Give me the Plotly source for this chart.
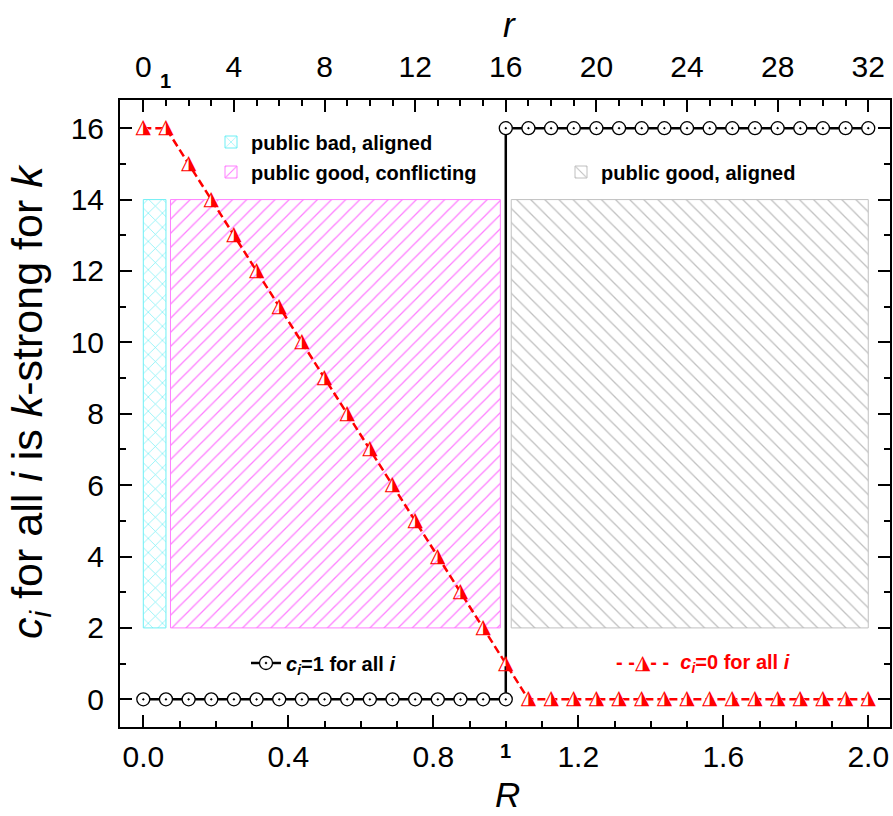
import plotly.graph_objects as go

# ---------------- data ----------------
r_vals = [0, 1, 2, 3, 4, 5, 6, 7, 8, 9, 10, 11, 12, 13, 14, 15, 16,
          17, 18, 19, 20, 21, 22, 23, 24, 25, 26, 27, 28, 29, 30, 31, 32]
R_vals = [v / 16 for v in r_vals]

# c_i = 1 for all i  (two branches joined at R = 1)
black_r = [0, 1, 2, 3, 4, 5, 6, 7, 8, 9, 10, 11, 12, 13, 14, 15, 16,
           16, 17, 18, 19, 20, 21, 22, 23, 24, 25, 26, 27, 28, 29, 30, 31, 32]
black_k = [0, 0, 0, 0, 0, 0, 0, 0, 0, 0, 0, 0, 0, 0, 0, 0, 0,
           16, 16, 16, 16, 16, 16, 16, 16, 16, 16, 16, 16, 16, 16, 16, 16, 16]
black_R = [v / 16 for v in black_r]

# c_i = 0 for all i
red_k = [16, 16, 15, 14, 13, 12, 11, 10, 9, 8, 7, 6, 5, 4, 3, 2, 1,
         0, 0, 0, 0, 0, 0, 0, 0, 0, 0, 0, 0, 0, 0, 0, 0]

# shaded regions
region_names = ["public bad, aligned", "public good, conflicting", "public good, aligned"]
region_R_start = [0.0, 0.075, 1.015]
region_R_end = [0.0625, 0.985, 2.0]
region_k_low = [2, 2, 2]
region_k_high = [14, 14, 14]
region_shape = ["x", "/", "\\"]
region_color = ["#6FEFF5", "#FF7FFF", "#C0C0C0"]

bottom_ticks = [0.0, 0.4, 0.8, 1.2, 1.6, 2.0]
top_ticks = [0, 4, 8, 12, 16, 20, 24, 28, 32]

FONT = "Liberation Sans"

# plot-area pixel geometry (figure 893 x 816)
PX_L, PX_R, PX_T, PX_B = 120, 890, 100, 727


def px_x(px):
    return (px - PX_L) / (PX_R - PX_L)


def px_y(py):
    return (PX_B - py) / (PX_B - PX_T)


fig = go.Figure()

# ---------------- hatched regions ----------------
legend_ids = ["legend", "legend2", "legend3"]
for i in range(3):
    a, b = region_R_start[i], region_R_end[i]
    fig.add_trace(go.Bar(
        x=[(a + b) / 2], width=[b - a],
        base=[region_k_low[i]], y=[region_k_high[i] - region_k_low[i]],
        name="<b>" + region_names[i] + "</b>",
        marker=dict(color="white",
                    line=dict(color=region_color[i], width=1),
                    pattern=dict(shape=region_shape[i], fgcolor=region_color[i],
                                 bgcolor="white", size=10, solidity=0.13,
                                 fillmode="replace")),
        legend=legend_ids[i], showlegend=True, hoverinfo="skip",
    ))

# ---------------- c_i = 1 series ----------------
fig.add_trace(go.Scatter(
    x=black_R, y=black_k, mode="lines+markers",
    line=dict(color="black", width=2.5),
    marker=dict(symbol="circle-dot", size=13, color="white",
                line=dict(color="black", width=1.3)),
    name="<b><i>c</i><sub><i>i</i></sub>=1 for all <i>i</i></b>",
    legend="legend4", showlegend=True,
))

# ---------------- c_i = 0 series ----------------
fig.add_trace(go.Scatter(
    x=R_vals, y=red_k, mode="lines+markers+text",
    line=dict(color="red", width=2.5, dash="8px,4px"),
    marker=dict(symbol="triangle-up", size=11, color="white", line=dict(width=0)),
    text=["\u25EE"] * len(R_vals), textposition="middle center",
    textfont=dict(family="DejaVu Sans", size=20, color="red"),
    showlegend=False, hoverinfo="skip",
))

# invisible anchor trace so the top axis is always drawn
fig.add_trace(go.Scatter(x=[r_vals[0], r_vals[-1]], y=[None, None], xaxis="x2",
                         mode="markers", showlegend=False, hoverinfo="skip"))

# red legend as text
fig.add_annotation(
    x=px_x(614), y=px_y(663), xref="paper", yref="paper",
    xanchor="left", yanchor="middle", showarrow=False,
    text="<b>- -</b><span style='font-family:DejaVu Sans'>\u25EE</span><b>- -</b>  "
         "<b><i>c</i><sub><i>i</i></sub>=0 for all <i>i</i></b>",
    font=dict(family=FONT, size=20, color="red"),
)

# bold "1" marks on both x axes
fig.add_annotation(x=1, xref="x", y=px_y(751), yref="paper", yanchor="middle",
                   text="<b>1</b>", showarrow=False,
                   font=dict(family=FONT, size=20, color="black"))
fig.add_annotation(x=1, xref="x2", y=px_y(81), yref="paper", yanchor="middle",
                   text="<b>1</b>", showarrow=False,
                   font=dict(family=FONT, size=20, color="black"))

# axis titles
fig.add_annotation(x=px_x(507), y=px_y(816), xref="paper", yref="paper",
                   text="<i>R</i>", showarrow=False, yanchor="bottom",
                   font=dict(family=FONT, size=35, color="black"))
fig.add_annotation(x=px_x(510), y=px_y(25), xref="paper", yref="paper",
                   text="<i>r</i>", showarrow=False, yanchor="middle",
                   font=dict(family=FONT, size=35, color="black"))
fig.add_annotation(x=px_x(30), y=px_y(402), xref="paper", yref="paper",
                   text="<i>c</i><sub><i>i</i></sub> for all <i>i</i> is "
                        "<i>k</i>-strong for <i>k</i>",
                   textangle=-90, showarrow=False, xanchor="center", yanchor="middle",
                   font=dict(family=FONT, size=43, color="black"))

axis_common = dict(showline=True, linecolor="black", linewidth=2,
                   ticks="inside", tickcolor="black", tickwidth=2, ticklen=12,
                   showgrid=False, zeroline=False, automargin=False,
                   tickfont=dict(family=FONT, size=30, color="black"))

minor_common = dict(tick0=0, ticks="inside", ticklen=6, tickwidth=2, tickcolor="black")

legend_common = dict(xanchor="left", yanchor="middle", bgcolor="rgba(0,0,0,0)",
                     font=dict(family=FONT, size=20, color="black"))

fig.update_layout(
    width=893, height=816,
    margin=dict(l=PX_L, r=893 - PX_R, t=PX_T, b=816 - PX_B, autoexpand=False),
    paper_bgcolor="white", plot_bgcolor="white",
    barmode="overlay",
    font=dict(family=FONT, color="black"),
    xaxis=dict(range=[-0.0643, 2.06], tickvals=bottom_ticks,
               ticktext=["%.1f" % v for v in bottom_ticks],
               minor=dict(dtick=0.1, **minor_common),
               ticklabelstandoff=2,
               **axis_common),
    xaxis2=dict(range=[-0.0643 * 16, 2.06 * 16], overlaying="x", side="top",
                tickvals=top_ticks,
                minor=dict(dtick=1, **minor_common),
                ticklabelstandoff=9,
                **axis_common),
    yaxis=dict(range=[-0.776, 16.79], dtick=2, tick0=0, mirror="ticks",
               minor=dict(dtick=1, **minor_common),
               ticklabelstandoff=8,
               **axis_common),
    legend=dict(x=px_x(211), y=px_y(142), **legend_common),
    legend2=dict(x=px_x(211), y=px_y(172), **legend_common),
    legend3=dict(x=px_x(561), y=px_y(172), **legend_common),
    legend4=dict(x=px_x(246), y=px_y(663), **legend_common),
)

# remove the browser's default 8px body margin so the figure sits at the page origin
fig.write_html(
    "out.html",
    config={"displayModeBar": False},
    post_script="document.body.style.margin='0';document.body.style.overflow='hidden';",
)
